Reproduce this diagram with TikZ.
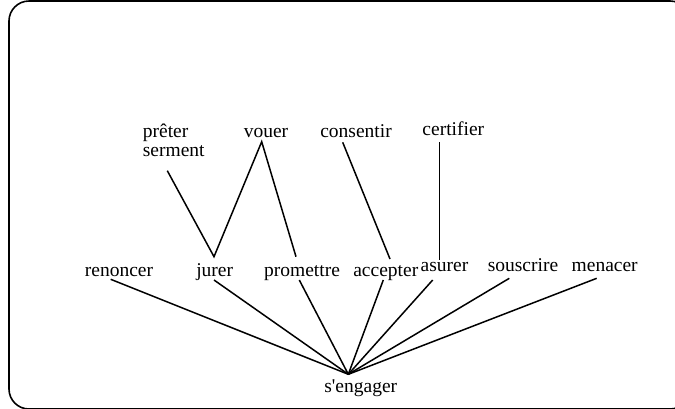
\documentclass[tikz,border=0pt]{standalone}
\usepackage{fontspec}
\setmainfont{Liberation Serif}
\newfontfamily\plainfont{Liberation Serif}[Ligatures=ResetAll]
\usetikzlibrary{calc}
\begin{document}
\begin{tikzpicture}[x=1pt,y=-1pt,
  word/.style={inner sep=0pt,anchor=base,font=\fontsize{19.5}{19}\selectfont},
  link/.style={line width=1.5pt}]
\useasboundingbox (0,0) rectangle (675,408);
\clip (0,0) rectangle (675,408);
\draw[line width=1.6pt,rounded corners=20pt] (9,1) rectangle (690,409);
% top row
\node[word,anchor=base west,align=left] (preter) at (142.7,156.5) {prêter\\serment};
\node[word] (vouer) at (266,137.5) {vouer};
\node[word] (consentir) at (356,137.5) {consentir};
\node[word] (certifier) at (453.3,135) {certifier};
% middle row
\node[word] (renoncer) at (119,276.5) {renoncer};
\node[word] (jurer) at (214.7,276.5) {jurer};
\node[word] (promettre) at (302,276.5) {promettre};
\node[word] (accepter) at (385.8,276.5) {accepter};
\node[word] (asurer) at (444.5,271.5) {asurer};
\node[word] (souscrire) at (523,271.5) {souscrire};
\node[word] (menacer) at (604.7,271.5) {menacer};
% bottom
\node[word,font=\fontsize{19.5}{19}\plainfont] (sengager) at (360.8,392) {s'engager};
\coordinate (hub) at ($(sengager.base)+(-12.5,-17.7)$);
% upper links
\draw[link] ($(preter.base west)+(24.6,14.2)$) -- ($(jurer.base)+(-0.7,-19.8)$)
  -- ($(vouer.base)+(-4.3,4.2)$) -- ($(promettre.base)+(-6,-19.8)$);
\draw[link] ($(consentir.base)+(-13.3,4.8)$) -- ($(accepter.base)+(4.2,-17.5)$);
\draw[link] ($(certifier.base)+(-14,7.3)$) -- ($(asurer.base)+(-5.2,-11.5)$);
% lower links
\draw[link] ($(renoncer.base)+(-8.3,2.8)$) -- (hub);
\draw[link] ($(jurer.base)+(-0.7,3.5)$) -- (hub);
\draw[link] ($(promettre.base)+(-2.7,3.5)$) -- (hub);
\draw[link] ($(accepter.base)+(-2.5,3.5)$) -- (hub);
\draw[link] ($(asurer.base)+(-11.8,8.5)$) -- (hub);
\draw[link] ($(souscrire.base)+(-13.7,6.8)$) -- (hub);
\draw[link] ($(menacer.base)+(-8,6.8)$) -- (hub);
\end{tikzpicture}
\end{document}
